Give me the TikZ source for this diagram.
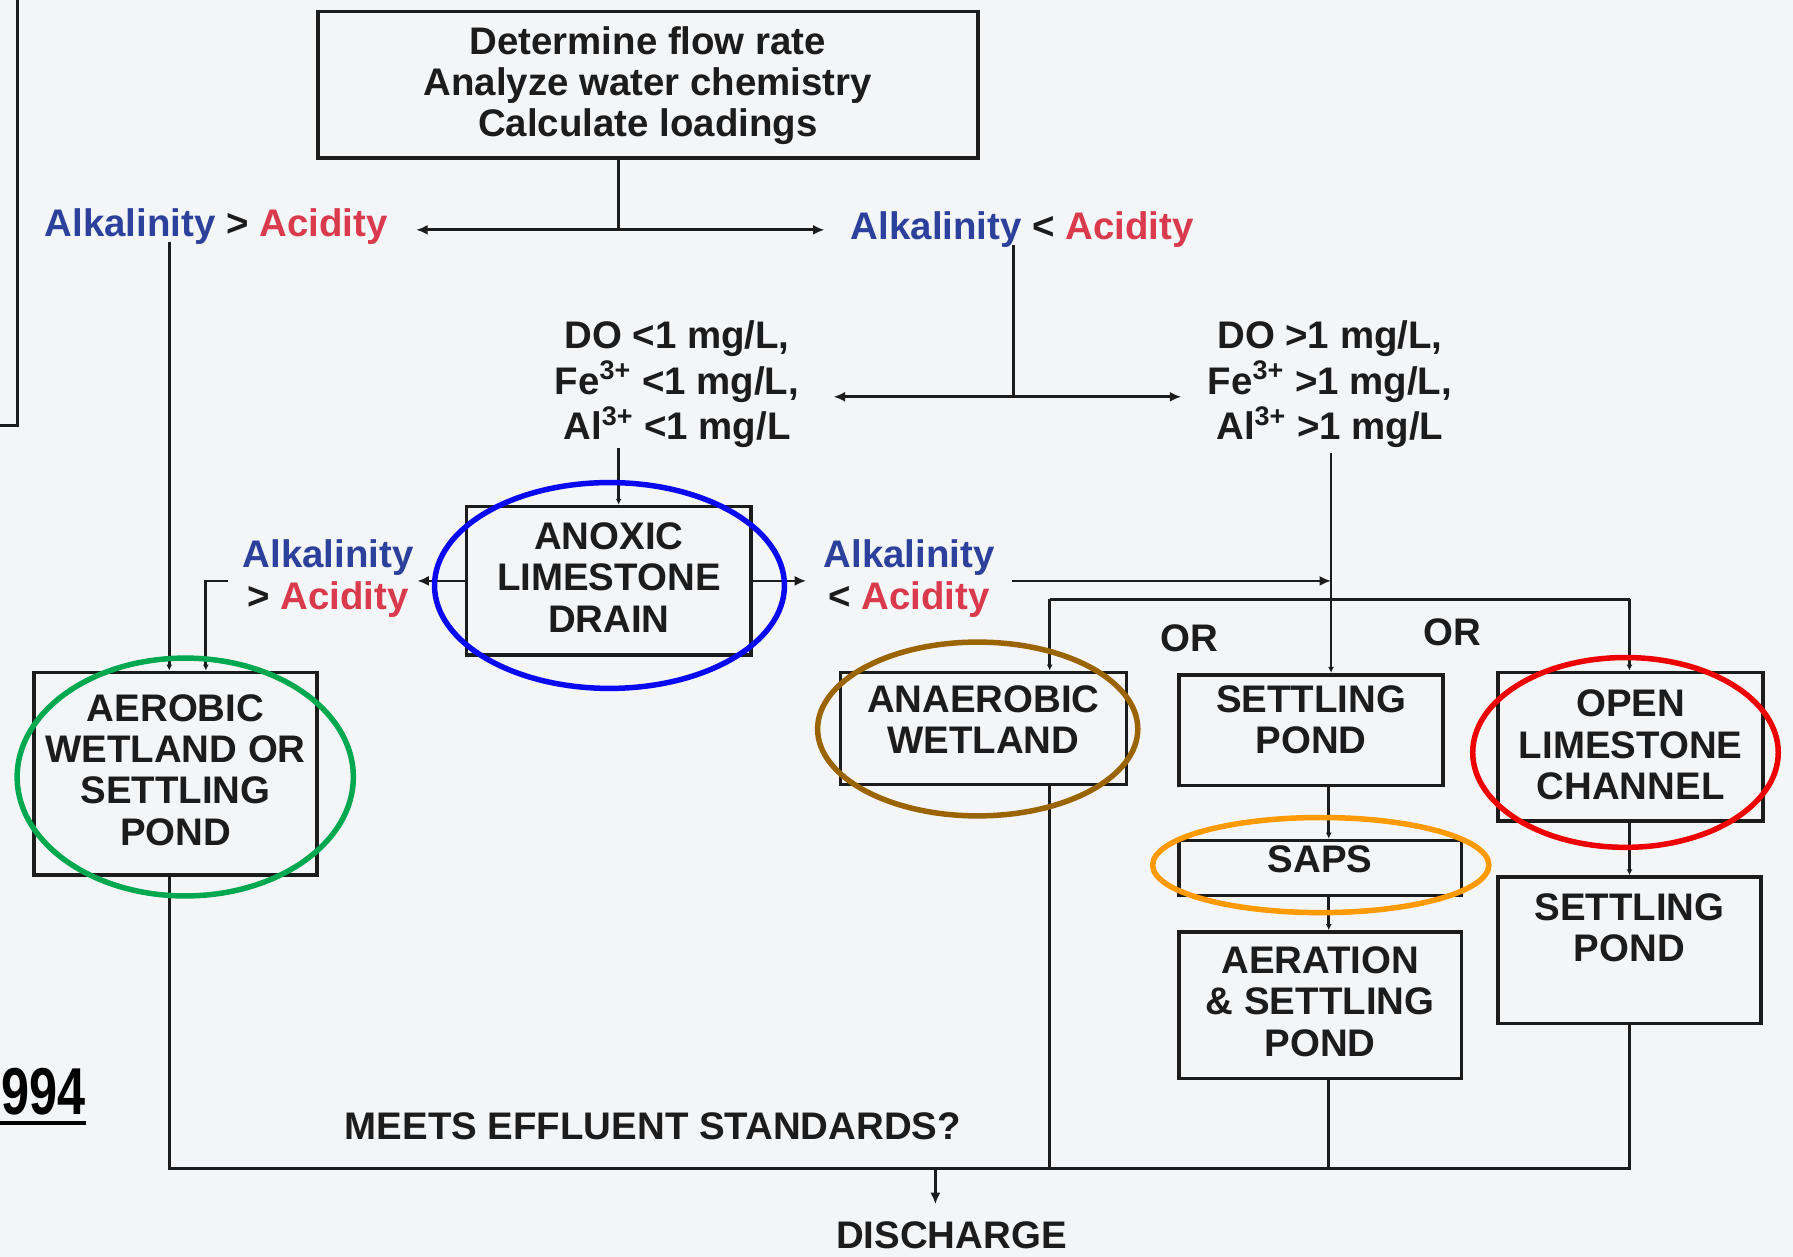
\documentclass[tikz,border=0pt]{standalone}
\usepackage{fontspec}
\setmainfont{Liberation Sans}
\usetikzlibrary{arrows.meta,fit}
\definecolor{bgc}{HTML}{F4F5F7}
\definecolor{ink}{HTML}{1C1C1C}
\definecolor{alkblue}{HTML}{2B419B}
\definecolor{acidred}{HTML}{D93A4C}
\definecolor{ringblue}{HTML}{0A0AF0}
\definecolor{ringgreen}{HTML}{00A850}
\definecolor{ringbrown}{HTML}{9A6400}
\definecolor{ringorange}{HTML}{FF9A00}
\definecolor{ringred}{HTML}{EE0000}
\newcommand{\alkw}{\textcolor{alkblue}{Alkalinity}}
\newcommand{\acidw}{\textcolor{acidred}{Acidity}}
\newcommand{\boxfont}{\fontsize{16.8}{18}\selectfont\bfseries}
\newcommand{\dofont}{\fontsize{16.8}{20}\selectfont\bfseries}
\begin{document}
\begin{tikzpicture}[x=0.5pt,y=-0.5pt,
  box/.style={draw=ink, line width=1.6pt, inner sep=0pt},
  lbl/.style={inner sep=0pt, font=\boxfont, align=center, text=ink},
  dolbl/.style={inner sep=0pt, font=\dofont, align=center, text=ink},
  wire/.style={draw=ink, line width=1.2pt},
  arr/.style={wire, -{Latex[length=5pt,width=4.4pt]}},
  tipa/.style={wire, -{Latex[length=2.6pt,width=2.6pt]}},
  ring/.style={line width=2.4pt}]
\useasboundingbox (0,0) rectangle (1568,1099);
\fill[bgc] (0,0) rectangle (1568,1099);

% stray partial frame at left edge and year
\draw[ink, line width=1.4pt] (15,-5) -- (15,372) -- (-5,372);
\node[inner sep=0pt, anchor=west, xscale=0.76, text=black, font=\fontsize{29}{30}\selectfont\bfseries] (year) at (1,955) {994};
\draw[black, line width=1.6pt] (-5,982) -- (75,982);

% boxes
\node[box, fit={(278,10) (855,138)}, label={[lbl,yshift=-0.5pt]center:{Determine flow rate\\Analyze water chemistry\\Calculate loadings}}] (top) {};
\node[box, fit={(408,443) (657,573)}, label={[lbl,yshift=1.5pt]center:{ANOXIC\\LIMESTONE\\DRAIN}}] (ald) {};
\node[box, fit={(30,588) (277,765)}, label={[lbl,yshift=1.5pt]center:{AEROBIC\\WETLAND OR\\SETTLING\\POND}}] (aerob) {};
\node[box, fit={(735,588) (985,686)}, label={[lbl,yshift=4pt]center:{ANAEROBIC\\WETLAND}}] (anaer) {};
\node[box, fit={(1031,590) (1262,687)}, label={[lbl,yshift=4.5pt]center:{SETTLING\\POND}}] (setM) {};
\node[box, fit={(1031,735) (1278,783)}, label={[lbl,yshift=4pt]center:{SAPS}}] (saps) {};
\node[box, fit={(1031,815) (1278,943)}, label={[lbl,yshift=1.5pt]center:{AERATION\\\& SETTLING\\POND}}] (aer) {};
\node[box, fit={(1310,588) (1542,718)}, label={[lbl,yshift=0.8pt]center:{OPEN\\LIMESTONE\\CHANNEL}}] (olc) {};
\node[box, fit={(1310,767) (1540,895)}, label={[lbl,yshift=10pt]center:{SETTLING\\POND}}] (setR) {};

% labels
\node[lbl] (alkL) at (189,198) {\alkw{} > \acidw};
\node[lbl] (alkR) at (894,201) {\alkw{} < \acidw};
\node[dolbl] (doL) at (592,336) {DO <1 mg/L,\\Fe\textsuperscript{3+} <1 mg/L,\\Al\textsuperscript{3+} <1 mg/L};
\node[dolbl] (doR) at (1163,336) {DO >1 mg/L,\\Fe\textsuperscript{3+} >1 mg/L,\\Al\textsuperscript{3+} >1 mg/L};
\node[lbl] (alk2) at (287,506) {\alkw\\> \acidw};
\node[lbl] (alk3) at (795,506) {\alkw\\< \acidw};
\node[lbl] (or1) at (1040,558) {OR};
\node[lbl] (or2) at (1270,553) {OR};
\node[lbl] (meets) at (571,985) {MEETS EFFLUENT STANDARDS?};
\node[lbl] (disch) at (832,1080) {DISCHARGE};

% junction coordinates
\coordinate (j1) at (541,201);
\coordinate (tAL) at (364,201);
\coordinate (tAR) at (721,201);
\coordinate (vL) at (148,212);
\coordinate (vR) at (886,214);
\coordinate (j2) at (886,347);
\coordinate (tDL) at (729,347);
\coordinate (tDR) at (1033,347);
\coordinate (dLb) at (541,392);
\coordinate (vM) at (1164,396);
\coordinate (tL2) at (365,508);
\coordinate (tR2) at (705,508);
\coordinate (brk) at (199,508);
\coordinate (brkc) at (180,508);
\coordinate (s3) at (885,508);
\coordinate (j3) at (1164,508);
\coordinate (cL) at (918,524);
\coordinate (cR) at (1425,524);
\coordinate (bl) at (148,1022);
\coordinate (br) at (1425,1022);
\coordinate (dq) at (818,1022);
\coordinate (dqt) at (818,1053);
\coordinate (xM) at (1162,0);

% connectors
\draw[wire] (j1 |- top.south) -- (j1);
\draw[arr] (j1) -- (tAL);
\draw[arr] (j1) -- (tAR);
\draw[tipa] (vL) -- (vL |- aerob.north);
\draw[wire] (vR) -- (j2);
\draw[arr] (j2) -- (tDL);
\draw[arr] (j2) -- (tDR);
\draw[tipa] (dLb) -- (dLb |- ald.north);
\draw[arr] (ald.west) -- (tL2);
\draw[arr] (ald.east) -- (tR2);
\draw[tipa] (brk) -- (brkc) -- (brkc |- aerob.north);
\draw[tipa] (vM) -- (vM |- setM.north);
\draw[arr] (s3) -- (j3);
\draw[wire] (cL) -- (cR);
\draw[tipa] (cL) -- (cL |- anaer.north);
\draw[tipa] (cR) -- (cR |- olc.north);
\draw[tipa] (xM |- setM.south) -- (xM |- saps.north);
\draw[tipa] (xM |- saps.south) -- (xM |- aer.north);
\draw[tipa] (cR |- olc.south) -- (cR |- setR.north);
\draw[wire] (bl |- aerob.south) -- (bl) -- (br) -- (br |- setR.south);
\draw[wire] (cL |- anaer.south) -- (cL |- bl);
\draw[wire] (xM |- aer.south) -- (xM |- bl);
\draw[arr] (dq) -- (dqt);

% highlight rings
\draw[ring, ringblue] (533,512) ellipse [x radius=76.5pt, y radius=45pt];
\draw[ring, ringgreen] (162,679.5) ellipse [x radius=73.5pt, y radius=52pt];
\draw[ring, ringbrown] (855,637.5) ellipse [x radius=70pt, y radius=38pt];
\draw[ring, ringorange] (1155,756.5) ellipse [x radius=73.5pt, y radius=20.8pt];
\draw[ring, ringred] (1421.5,658) ellipse [x radius=66.8pt, y radius=41.5pt];
\end{tikzpicture}
\end{document}
